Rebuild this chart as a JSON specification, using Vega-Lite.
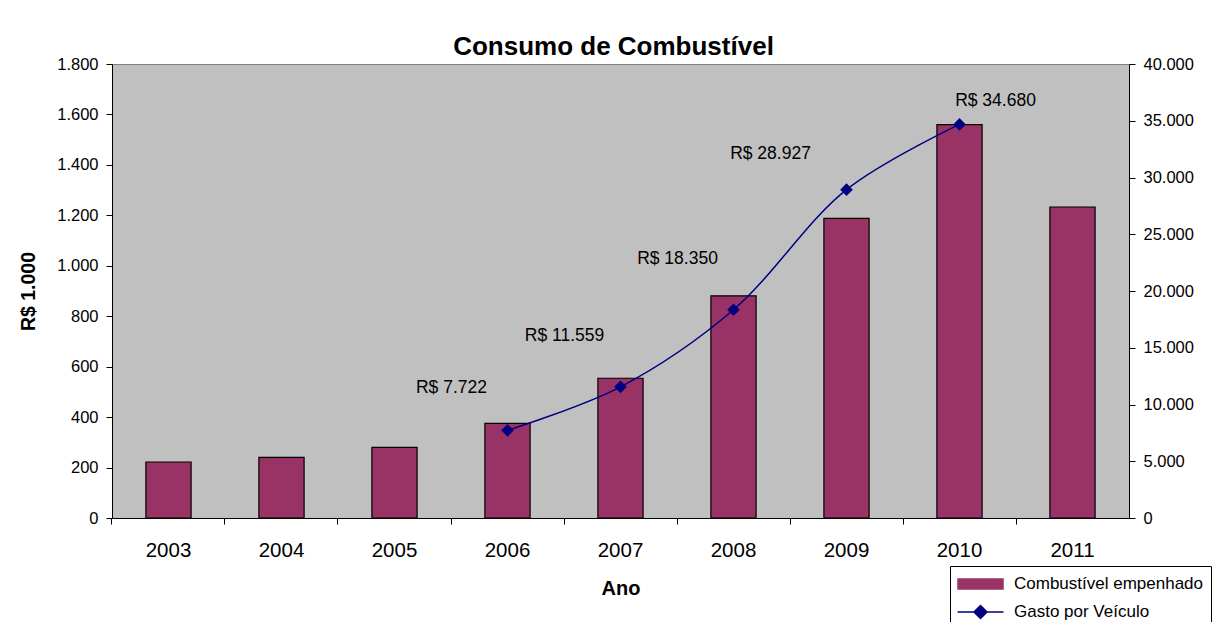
{
  "$schema": "https://vega.github.io/schema/vega-lite/v6.json",
  "width": 1017,
  "height": 454,
  "autosize": "none",
  "padding": {"left": 112, "top": 64, "right": 92, "bottom": 104},
  "background": "white",
  "title": {"text": "Consumo de Combustível", "fontSize": 26, "fontWeight": "bold", "color": "black", "anchor": "middle", "frame": "group", "offset": -3.5, "dx": -7},
  "data": {
    "values": [
      {"ano": "2003", "combustivel": 222, "gasto": null},
      {"ano": "2004", "combustivel": 240, "gasto": null},
      {"ano": "2005", "combustivel": 280, "gasto": null},
      {"ano": "2006", "combustivel": 375, "gasto": 7722},
      {"ano": "2007", "combustivel": 554, "gasto": 11559},
      {"ano": "2008", "combustivel": 881, "gasto": 18350},
      {"ano": "2009", "combustivel": 1188, "gasto": 28927},
      {"ano": "2010", "combustivel": 1560, "gasto": 34680},
      {"ano": "2011", "combustivel": 1233, "gasto": null}
    ]
  },
  "encoding": {
    "x": {
      "field": "ano", "type": "ordinal",
      "scale": {"paddingInner": 0.6, "paddingOuter": 0.3},
      "axis": {"title": "Ano", "labelAngle": 0, "labelFontSize": 20.5, "labelPadding": 16, "tickSize": 6, "bandPosition": -0.75, "titleFontSize": 20, "titleFontWeight": "bold", "titlePadding": 18, "domainColor": "black", "tickColor": "black", "labelColor": "black", "titleColor": "black", "grid": false}
    }
  },
  "layer": [
    {
      "encoding": {
        "y": {
          "field": "combustivel", "type": "quantitative",
          "scale": {"domain": [0, 1800], "nice": false},
          "axis": {"orient": "left", "values": [0, 200, 400, 600, 800, 1000, 1200, 1400, 1600, 1800], "format": ",.0f", "title": "R$ 1.000", "titleFontSize": 19.5, "titleFontWeight": "bold", "titlePadding": 18.5, "labelFontSize": 16.5, "labelPadding": 8, "tickSize": 6, "domainColor": "black", "tickColor": "black", "labelColor": "black", "titleColor": "black", "grid": false}
        }
      },
      "layer": [
        {
          "mark": {"type": "bar"},
          "encoding": {
            "color": {
              "datum": "Combustível empenhado", "type": "nominal",
              "scale": {"domain": ["Combustível empenhado", "Gasto por Veículo"], "range": ["#993366", "#000080"]},
              "legend": {
                "title": null, "orient": "none", "legendX": 838, "legendY": 502,
                "fillColor": "white", "strokeColor": "black", "padding": 7, "cornerRadius": 0,
                "symbolSize": 400, "symbolOffset": 12.5, "labelFontSize": 17, "labelOffset": 22.5, "rowPadding": 9, "labelColor": "black", "labelLimit": 400,
                "symbolType": {"expr": "datum.value === 'Gasto por Veículo' ? 'M-2.3,0L2.3,0M0,-0.65L0.65,0L0,0.65L-0.65,0Z' : 'M-2.25,-0.5L2.25,-0.5L2.25,0.5L-2.25,0.5Z'"},
                "symbolFillColor": {"expr": "datum.value === 'Gasto por Veículo' ? '#000080' : '#993366'"},
                "symbolStrokeColor": {"expr": "datum.value === 'Gasto por Veículo' ? '#000080' : '#000000'"},
                "symbolStrokeWidth": 1.5,
                "symbolOpacity": 1
              }
            }
          }
        },
        {
          "mark": {"type": "bar", "fillOpacity": 0, "stroke": "black", "strokeWidth": 1.2}
        }
      ]
    },
    {
      "transform": [{"filter": "datum.gasto != null"}],
      "encoding": {
        "y": {
          "field": "gasto", "type": "quantitative",
          "scale": {"domain": [0, 40000], "nice": false},
          "axis": {"orient": "right", "values": [0, 5000, 10000, 15000, 20000, 25000, 30000, 35000, 40000], "format": ",.0f", "title": null, "labelFontSize": 16.5, "labelPadding": 8, "tickSize": 6, "domainColor": "black", "tickColor": "black", "labelColor": "black", "grid": false}
        }
      },
      "layer": [
        {
          "mark": {"type": "line", "interpolate": "catmull-rom", "strokeWidth": 1.5, "point": {"shape": "diamond", "size": 160, "filled": true, "opacity": 1}},
          "encoding": {
            "color": {"datum": "Gasto por Veículo", "type": "nominal"}
          }
        },
        {
          "transform": [{"filter": "datum.ano == '2006'"}],
          "mark": {"type": "text", "fontSize": 17.5, "align": "center", "baseline": "middle", "dx": -56, "dy": -42, "color": "black"},
          "encoding": {"text": {"field": "gasto", "type": "quantitative", "format": "$,.0f"}}
        },
        {
          "transform": [{"filter": "datum.ano == '2007' || datum.ano == '2008'"}],
          "mark": {"type": "text", "fontSize": 17.5, "align": "center", "baseline": "middle", "dx": -56, "dy": -51, "color": "black"},
          "encoding": {"text": {"field": "gasto", "type": "quantitative", "format": "$,.0f"}}
        },
        {
          "transform": [{"filter": "datum.ano == '2009'"}],
          "mark": {"type": "text", "fontSize": 17.5, "align": "center", "baseline": "middle", "dx": -76, "dy": -36, "color": "black"},
          "encoding": {"text": {"field": "gasto", "type": "quantitative", "format": "$,.0f"}}
        },
        {
          "transform": [{"filter": "datum.ano == '2010'"}],
          "mark": {"type": "text", "fontSize": 17.5, "align": "center", "baseline": "middle", "dx": 36, "dy": -23, "color": "black"},
          "encoding": {"text": {"field": "gasto", "type": "quantitative", "format": "$,.0f"}}
        }
      ]
    }
  ],
  "resolve": {"scale": {"y": "independent"}},
  "config": {
    "font": "Liberation Sans",
    "locale": {"number": {"decimal": ",", "thousands": ".", "grouping": [3], "currency": ["R$ ", ""]}},
    "view": {"fill": "#C0C0C0", "stroke": "#808080", "strokeWidth": 1},
    "axis": {"domainWidth": 1, "tickWidth": 1}
  }
}
